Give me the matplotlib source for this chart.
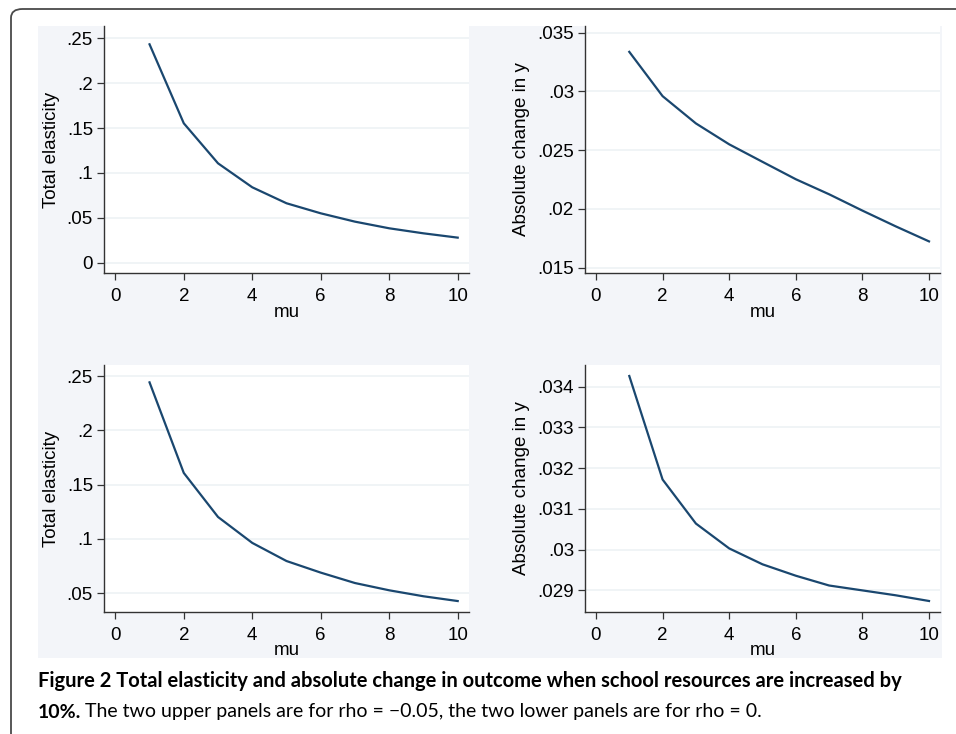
import matplotlib.pyplot as plt
from matplotlib.patches import FancyBboxPatch, Rectangle
import numpy as np

mu = [1, 2, 3, 4, 5, 6, 7, 8, 9, 10]

# rho = -0.05
elast_upper = [0.2433, 0.1553, 0.1107, 0.0840, 0.0662, 0.0550, 0.0457, 0.0383, 0.0327, 0.0279]
change_upper = [0.03336, 0.02959, 0.02727, 0.02549, 0.02400, 0.02252, 0.02124, 0.01985, 0.01851, 0.01723]
# rho = 0
elast_lower = [0.2442, 0.1607, 0.1201, 0.0962, 0.0795, 0.0688, 0.0592, 0.0525, 0.0470, 0.0426]
change_lower = [0.03426, 0.03172, 0.03064, 0.03003, 0.02964, 0.02936, 0.02912, 0.02900, 0.02888, 0.02874]

x_ticks = [0, 2, 4, 6, 8, 10]
y_ticks_el_up = [0, 0.05, 0.1, 0.15, 0.2, 0.25]
y_lab_el_up = ['0', '.05', '.1', '.15', '.2', '.25']
y_ticks_ch_up = [0.015, 0.02, 0.025, 0.03, 0.035]
y_lab_ch_up = ['.015', '.02', '.025', '.03', '.035']
y_ticks_el_lo = [0.05, 0.1, 0.15, 0.2, 0.25]
y_lab_el_lo = ['.05', '.1', '.15', '.2', '.25']
y_ticks_ch_lo = [0.029, 0.030, 0.031, 0.032, 0.033, 0.034]
y_lab_ch_lo = ['.029', '.03', '.031', '.032', '.033', '.034']

W, H = 956, 734
plt.rcParams['font.family'] = ['Liberation Sans', 'DejaVu Sans']

fig = plt.figure(figsize=(W / 100, H / 100), dpi=100)

# outer frame (rounded, runs off the right and bottom edges)
frame = FancyBboxPatch((11 / W, 1 - 760 / H), 980 / W, 751 / H,
                       boxstyle='round,pad=0,rounding_size=0.012',
                       transform=fig.transFigure, fill=False,
                       edgecolor='#4a4a4a', linewidth=1.3, clip_on=False,
                       zorder=-5)
fig.patches.append(frame)

# light graph region behind the four panels
bg = Rectangle((38 / W, 1 - 658 / H), (942 - 38) / W, (658 - 26) / H,
               transform=fig.transFigure, facecolor='#f3f5f9',
               edgecolor='none', zorder=-10)
fig.patches.append(bg)

line_col = '#1a476f'
fs = 13.5


def panel(rect, y, yticks, ylabels, ylim, ylabel, xlab_pad):
    ax = fig.add_axes([rect[0] / W, 1 - rect[3] / H,
                       (rect[2] - rect[0]) / W, (rect[3] - rect[1]) / H])
    ax.set_zorder(1)
    ax.set_facecolor('white')
    ax.plot(mu, y, color=line_col, linewidth=1.6, zorder=3)
    ax.set_xlim(-0.33, 10.33)
    ax.set_ylim(*ylim)
    ax.set_xticks(x_ticks)
    ax.set_yticks(yticks)
    ax.set_yticklabels(ylabels)
    for yt in yticks:
        ax.axhline(yt, color='#eef2f5', linewidth=1.2, zorder=1)
    for s in ['top', 'right']:
        ax.spines[s].set_visible(False)
    for s in ['left', 'bottom']:
        ax.spines[s].set_color('#333333')
        ax.spines[s].set_linewidth(1.0)
    ax.tick_params(direction='out', length=5, width=0.9, color='#333333',
                   labelsize=fs)
    ax.tick_params(axis='y', pad=3)
    ax.tick_params(axis='x', pad=6)
    ax.set_xlabel('mu', fontsize=fs, labelpad=xlab_pad)
    ax.set_ylabel(ylabel, fontsize=fs, labelpad=5)
    return ax


panel((104, 26, 469, 273), elast_upper, y_ticks_el_up, y_lab_el_up,
      (-0.0115, 0.2637), 'Total elasticity', -1)
panel((585, 26, 940, 273), change_upper, y_ticks_ch_up, y_lab_ch_up,
      (0.01454, 0.03556), 'Absolute change in y', -1)
panel((104, 365, 469, 612), elast_lower, y_ticks_el_lo, y_lab_el_lo,
      (0.0325, 0.2602), 'Total elasticity', -1.5)
panel((585, 365, 940, 612), change_lower, y_ticks_ch_lo, y_lab_ch_lo,
      (0.02847, 0.03453), 'Absolute change in y', -1.5)

cap_font = ['Lato', 'DejaVu Sans']
fig.text(38 / W, 1 - 681 / H,
         'Figure 2 Total elasticity and absolute change in outcome when school resources are increased by',
         fontsize=14.5, fontweight='bold', family=cap_font, va='center', ha='left')
t10 = fig.text(38 / W, 1 - 712 / H, '10%.', fontsize=14.0, fontweight='bold',
               family=cap_font, va='center', ha='left')
r = fig.canvas.get_renderer()
x_end = t10.get_window_extent(renderer=r).x1
fig.text((x_end + 4) / W, 1 - 712 / H,
         'The two upper panels are for rho = \u22120.05, the two lower panels are for rho = 0.',
         fontsize=14.0, family=cap_font, va='center', ha='left')

fig.savefig('out.png', dpi=100)
